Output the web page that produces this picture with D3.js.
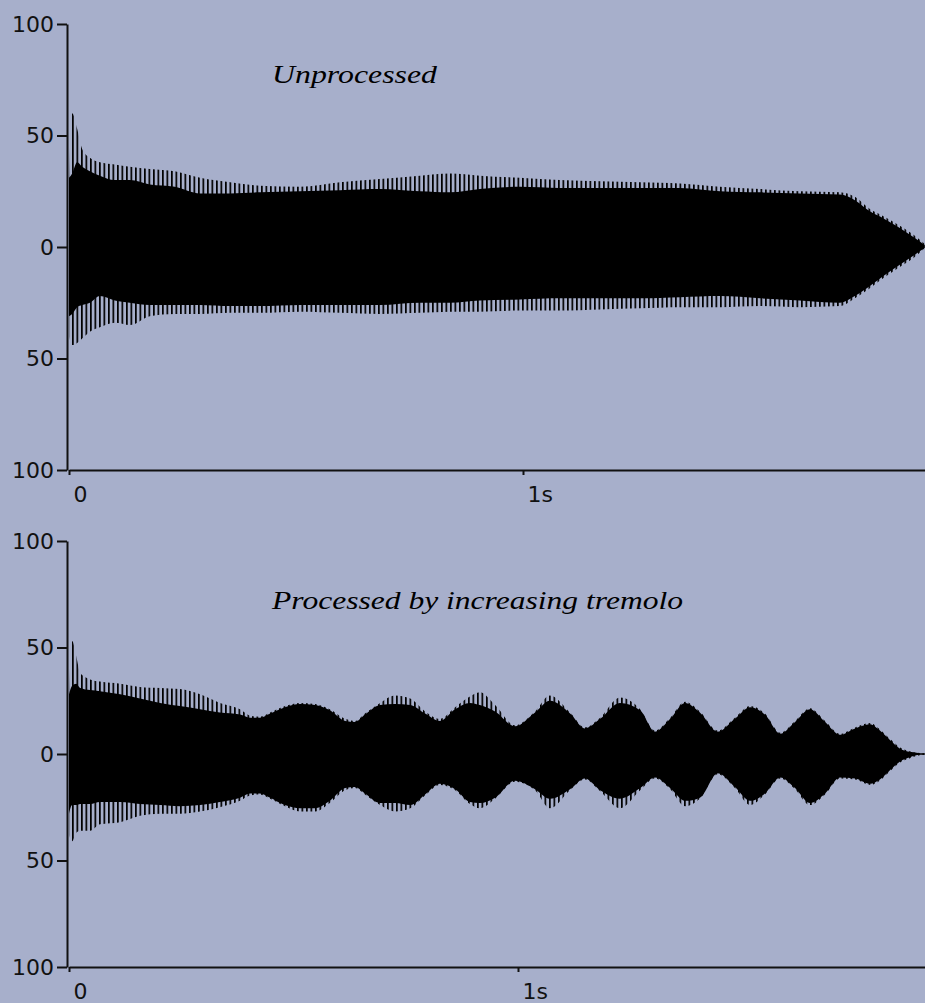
<!DOCTYPE html>
<html><head><meta charset="utf-8">
<script src="https://cdn.jsdelivr.net/npm/d3@7"></script>
<style>html,body{margin:0;padding:0;background:#a7afcb;overflow:hidden}</style>
</head><body><svg id="c" width="925" height="1003"></svg>
<script>
// ---------- data (amplitudes, seconds / percent) ----------
const tickValuesY = [100, 50, 0, -50, -100];
const tickLabelsY = ["100", "50", "0", "50", "100"];
const tickValuesX = [0, 1];
const tickLabelsX = ["0", "1s"];
const titles = ["Unprocessed", "Processed by increasing tremolo"];

// Unprocessed: envelope peaks (outer) and solid core (inner)
const rawTime = [0, 0.007, 0.018, 0.029, 0.046, 0.068, 0.101, 0.134, 0.178, 0.233, 0.289, 0.355, 0.421, 0.509, 0.597, 0.685, 0.773, 0.839, 0.905, 0.993, 1.081, 1.170, 1.258, 1.346, 1.434, 1.522, 1.610, 1.698, 1.731, 1.764, 1.797, 1.830, 1.863, 1.885];
const rawUpperPeak = [31, 60, 53, 44, 40, 38, 37, 36, 35, 34, 31, 29, 27.5, 27, 29, 30.5, 32, 33, 32, 31, 30, 29.5, 29, 28.5, 27, 26, 25, 24.5, 22.5, 17, 13.5, 9.5, 5, 1.3];
const rawUpperCore = [31, 33, 38, 36, 34, 32, 30, 30, 28, 27, 24, 24, 24.5, 25, 25.5, 26, 25, 24.5, 26, 27, 26.5, 26.5, 26.5, 26.5, 25, 24.5, 24, 23.5, 21, 16, 12.5, 8.5, 4, 0.8];
const rawLowerPeak = [-40, -44, -43, -41, -38, -36, -34, -35, -31, -30, -30, -29.5, -29.5, -29, -29.5, -30, -29.5, -29, -29, -28.5, -28.5, -28, -27.5, -27, -27, -26.5, -27, -26.5, -23, -18.5, -13.5, -9, -4.5, -0.5];
const rawLowerCore = [-31, -30, -27, -26, -25, -22, -24, -25, -26, -26, -26, -26.5, -26.5, -26, -26, -26, -25, -25, -24, -23.5, -23, -23, -23, -22.5, -22, -23, -24, -25, -22, -17.5, -12.5, -8, -3.5, -0.3];

// Processed by increasing tremolo
const tremTime = [0, 0.007, 0.016, 0.025, 0.047, 0.069, 0.114, 0.158, 0.203, 0.247, 0.292, 0.336, 0.381, 0.403, 0.425, 0.448, 0.481, 0.515, 0.548, 0.581, 0.615, 0.637, 0.659, 0.693, 0.726, 0.760, 0.793, 0.826, 0.860, 0.893, 0.915, 0.949, 0.993, 1.038, 1.071, 1.116, 1.149, 1.183, 1.227, 1.272, 1.305, 1.339, 1.372, 1.405, 1.445, 1.483, 1.517, 1.550, 1.584, 1.617, 1.650, 1.684, 1.717, 1.751, 1.784, 1.806, 1.829, 1.851, 1.873, 1.895, 1.906];
const tremUpperPeak = [28, 53, 46, 38, 35, 34, 33, 31.5, 31, 30.5, 28, 24, 21, 18, 17.5, 19.5, 22.5, 24, 23.5, 21, 16.5, 15.5, 19, 24, 27.5, 26, 20, 16.5, 22, 27, 29, 23, 13.5, 20, 27.5, 19.5, 12.5, 17, 26.5, 21, 11, 17, 24.5, 20, 11, 17, 22.5, 19, 10, 15.5, 21.5, 15.5, 9.5, 12.5, 14.5, 11.5, 7, 3, 1.2, 0.5, 0.4];
const tremUpperCore = [28, 32, 33, 31, 30, 29.5, 28, 26, 24, 22.5, 21, 19.5, 18.5, 17, 17, 19, 22, 23.5, 23, 20.5, 15.5, 15, 18.5, 23, 23.5, 23, 19, 15.5, 21, 24, 23, 20, 13, 19.5, 25, 19, 12, 16.5, 24, 20.5, 10.5, 16.5, 24, 19.5, 10.5, 16.5, 22, 18.5, 9.5, 15, 21, 15, 9, 12, 14, 11, 6.5, 2.5, 1, 0.4, 0.3];
const tremLowerPeak = [-38, -41, -37, -36, -36, -33, -32, -29, -28, -28, -27, -25, -22, -19.5, -19, -21, -24.5, -27, -27, -23, -17, -16, -19, -24, -27, -25.5, -19.5, -14.5, -17, -23.5, -25.5, -21, -13, -17, -25.5, -17, -12, -17.5, -25.5, -17, -11.5, -16.5, -24.5, -21, -9.5, -16, -24, -19, -11.5, -16.5, -24, -19, -11.5, -12, -14.5, -12.5, -8, -4, -2, -0.6, -0.4];
const tremLowerCore = [-28, -24, -24, -23.5, -23.5, -22.5, -22.5, -23.5, -24, -24.5, -24, -22.5, -20.5, -18.5, -18.5, -20.5, -24, -25.5, -25.5, -22, -16, -15.5, -18.5, -23, -23, -24, -19, -14, -16.5, -22.5, -23, -20.5, -12.5, -16.5, -21, -16.5, -11.5, -17, -21, -16, -11, -16, -22, -20.5, -9, -15.5, -22, -18.5, -11, -16, -23, -18.5, -11, -11.5, -14, -12, -7.5, -3.5, -1.5, -0.4, -0.3];

// ---------- drawing ----------
const W = 925, H = 1003;
const BG = "#a7afcb", INK = "#111";
const svg = d3.select("#c");
svg.append("rect").attr("width", W).attr("height", H).attr("fill", BG);

const defs = svg.append("defs");
const pat = defs.append("pattern").attr("id", "comb")
  .attr("patternUnits", "userSpaceOnUse").attr("width", 4.5).attr("height", 10);
pat.append("rect").attr("x", 0).attr("y", 0).attr("width", 1.7).attr("height", 10).attr("fill", "#000");

function build(series) {
  return series.time.map((t, i) => ({
    t, uo: series.uo[i], ui: series.ui[i], lo: series.lo[i], li: series.li[i]
  }));
}

const panels = [
  { data: build({time: rawTime, uo: rawUpperPeak, ui: rawUpperCore, lo: rawLowerPeak, li: rawLowerCore}),
    x1: 523, yRange: [470, 24], title: titles[0], titleY: 83, titleLen: 165 },
  { data: build({time: tremTime, uo: tremUpperPeak, ui: tremUpperCore, lo: tremLowerPeak, li: tremLowerCore}),
    x1: 518, yRange: [967, 541], title: titles[1], titleY: 609, titleLen: 411 }
];

const X0 = 69, AXX = 67;

panels.forEach(p => {
  const x = d3.scaleLinear().domain([0, 1]).range([X0, p.x1]);
  const xAxisScale = x.copy().domain([0, x.invert(W)]).range([X0, W]);
  const y = d3.scaleLinear().domain([-100, 100]).range(p.yRange);
  const g = svg.append("g");

  const outer = d3.area().curve(d3.curveMonotoneX)
    .x(d => x(d.t)).y0(d => y(d.lo)).y1(d => y(d.uo));
  const core = d3.area().curve(d3.curveMonotoneX)
    .x(d => x(d.t)).y0(d => y(d.li)).y1(d => y(d.ui));

  g.append("path").datum(p.data).attr("d", outer).attr("fill", "url(#comb)");
  g.append("path").datum(p.data).attr("d", core).attr("fill", "#000");

  // y axis
  const ya = g.append("g").attr("transform", `translate(${AXX},0)`)
    .call(d3.axisLeft(y).tickValues(tickValuesY).tickFormat((d, i) => tickLabelsY[i])
      .tickSize(10).tickSizeOuter(0).tickPadding(3));
  ya.select(".domain").attr("stroke", INK).attr("stroke-width", 2);
  ya.selectAll(".tick line").attr("stroke", INK).attr("stroke-width", 2);
  ya.selectAll(".tick text").attr("fill", INK)
    .style("font-family", "'DejaVu Sans', sans-serif").style("font-size", "22px");

  // x axis
  const xa = g.append("g").attr("transform", `translate(0,${p.yRange[0]})`)
    .call(d3.axisBottom(xAxisScale).tickValues(tickValuesX).tickFormat((d, i) => tickLabelsX[i])
      .tickSize(5).tickSizeOuter(0));
  xa.select(".domain").attr("stroke", INK).attr("stroke-width", 2);
  xa.selectAll(".tick line").attr("stroke", INK).attr("stroke-width", 2);
  xa.selectAll(".tick text").attr("fill", INK)
    .attr("text-anchor", "start").attr("x", 4).attr("y", 15).attr("dy", "0.76em")
    .style("font-family", "'DejaVu Sans', sans-serif").style("font-size", "22px");

  // title
  g.append("text").attr("x", 272).attr("y", p.titleY)
    .attr("textLength", p.titleLen).attr("lengthAdjust", "spacingAndGlyphs")
    .style("font-family", "'Liberation Serif', serif").style("font-style", "italic")
    .style("font-size", "26px").attr("fill", "#000").text(p.title);
});
</script>
</body></html>
